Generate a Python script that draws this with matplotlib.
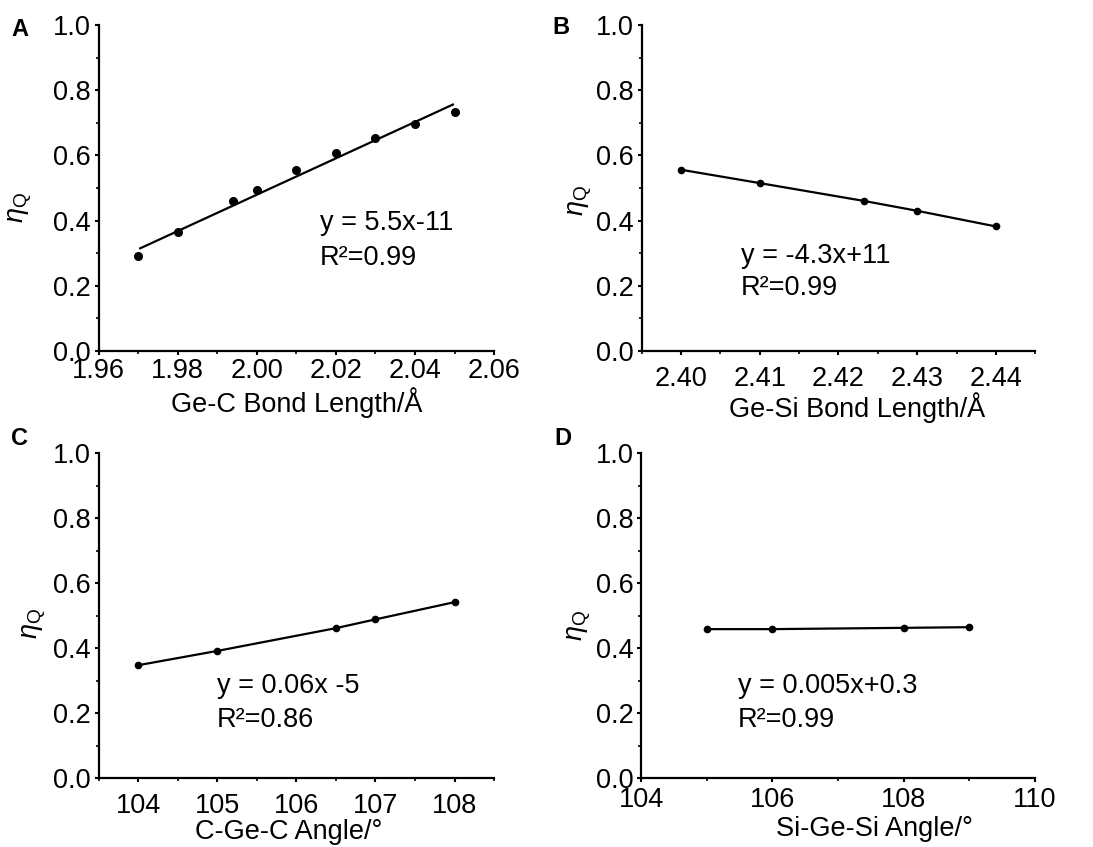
import matplotlib
matplotlib.use("Agg")
import matplotlib.pyplot as plt
from matplotlib.ticker import MultipleLocator, FormatStrFormatter

plt.rcParams['font.family'] = ['Liberation Sans', 'DejaVu Sans']
plt.rcParams['mathtext.fontset'] = 'custom'
plt.rcParams['mathtext.rm'] = 'Liberation Sans'
plt.rcParams['mathtext.it'] = 'Liberation Sans:italic'

# Panel A: Ge-C bond length
a_x = [1.970, 1.980, 1.994, 2.000, 2.010, 2.020, 2.030, 2.040, 2.050]
a_y = [0.292, 0.365, 0.460, 0.495, 0.554, 0.606, 0.653, 0.696, 0.734]
a_fit_x = [1.9705, 2.0496]
a_fit_y = [0.315, 0.756]

# Panel B: Ge-Si bond length
b_x = [2.400, 2.410, 2.4233, 2.430, 2.440]
b_y = [0.556, 0.515, 0.460, 0.430, 0.382]

# Panel C: C-Ge-C angle
c_x = [104.0, 105.0, 106.5, 107.0, 108.0]
c_y = [0.348, 0.392, 0.462, 0.489, 0.542]

# Panel D: Si-Ge-Si angle
d_x = [105.0, 106.0, 108.0, 109.0]
d_y = [0.459, 0.459, 0.463, 0.465]

fig = plt.figure(figsize=(10.93, 8.47), dpi=100)

axA = fig.add_axes([0.0903, 0.5856, 0.3617, 0.3849])
axB = fig.add_axes([0.5871, 0.5856, 0.3601, 0.3849])
axC = fig.add_axes([0.0903, 0.0811, 0.3617, 0.3837])
axD = fig.add_axes([0.5865, 0.0811, 0.3605, 0.3837])

FS = 19.5

def style(ax, xlim, xmaj, xmin, xfmt, xpad):
    ax.set_xlim(*xlim)
    ax.set_ylim(0, 1.0)
    for s in ['top', 'right']:
        ax.spines[s].set_visible(False)
    for s in ['left', 'bottom']:
        ax.spines[s].set_linewidth(1.6)
    ax.xaxis.set_major_locator(MultipleLocator(xmaj))
    ax.xaxis.set_minor_locator(MultipleLocator(xmin))
    ax.xaxis.set_major_formatter(FormatStrFormatter(xfmt))
    ax.yaxis.set_major_locator(MultipleLocator(0.2))
    ax.yaxis.set_minor_locator(MultipleLocator(0.1))
    ax.yaxis.set_major_formatter(FormatStrFormatter('%.1f'))
    ax.tick_params(which='major', direction='out', length=3, width=1.5, labelsize=FS)
    ax.tick_params(which='minor', direction='out', length=2, width=1.2)
    ax.tick_params(axis='y', which='major', pad=2.5)
    ax.tick_params(axis='x', which='major', pad=xpad)

style(axA, (1.96, 2.06), 0.02, 0.01, '%.2f', 2.0)
style(axB, (2.395, 2.445), 0.01, 0.005, '%.2f', 8.0)
style(axC, (103.5, 108.5), 1, 0.5, '%d', 7.3)
style(axD, (104, 110), 2, 1, '%d', 3.0)

axA.plot(a_fit_x, a_fit_y, color='black', lw=1.6, zorder=2)
axA.plot(a_x, a_y, 'o', color='black', ms=5.5, zorder=3)

for ax, xs, ys in [(axB, b_x, b_y), (axC, c_x, c_y), (axD, d_x, d_y)]:
    ax.plot(xs, ys, '-o', color='black', lw=1.6, ms=4.5, clip_on=False)

ylab = r'$\eta_{\mathrm{Q}}$'
for ax, lx, ly in [(axA, -0.164, 0.44), (axB, -0.121, 0.46), (axC, -0.129, 0.475), (axD, -0.121, 0.47)]:
    ax.set_ylabel(ylab, fontsize=FS)
    ax.yaxis.set_label_coords(lx, ly)

for ax, txt, lx, ly in [(axA, 'Ge-C Bond Length/Å', 0.5, -0.11),
                        (axB, 'Ge-Si Bond Length/Å', 0.548, -0.125),
                        (axC, 'C-Ge-C Angle/°', 0.48, -0.125),
                        (axD, 'Si-Ge-Si Angle/°', 0.592, -0.115)]:
    ax.set_xlabel(txt, fontsize=FS)
    ax.xaxis.set_label_coords(lx, ly)

for ax, l1, l2, tx, y1, y2 in [(axA, 'y = 5.5x-11', 'R²=0.99', 0.56, 0.371, 0.264),
                               (axB, 'y = -4.3x+11', 'R²=0.99', 0.252, 0.27, 0.172),
                               (axC, 'y = 0.06x -5', 'R²=0.86', 0.299, 0.262, 0.158),
                               (axD, 'y = 0.005x+0.3', 'R²=0.99', 0.246, 0.262, 0.158)]:
    ax.text(tx, y1, l1, transform=ax.transAxes, fontsize=FS, va='baseline', ha='left')
    ax.text(tx, y2, l2, transform=ax.transAxes, fontsize=FS, va='baseline', ha='left')

for lab, x, y in [('A', 20, 30), ('B', 561, 28), ('C', 20, 438), ('D', 563, 438)]:
    fig.text(x / 1093, 1 - y / 847, lab, fontsize=17, fontweight='bold', ha='center', va='center')

fig.savefig('out.png', dpi=100)
